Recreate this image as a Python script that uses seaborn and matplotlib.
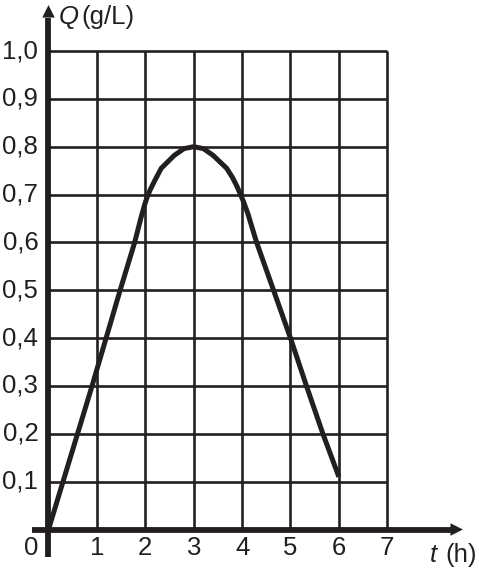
import matplotlib
matplotlib.use("Agg")
import matplotlib.pyplot as plt
import seaborn as sns
import pandas as pd

# curve points
t_vals = [0.0, 0.3, 0.6, 0.9, 1.19, 1.48, 1.78, 1.92, 1.99, 2.05, 2.12, 2.2, 2.33, 2.6, 2.8,
          3.0, 3.2, 3.4, 3.68, 3.8, 3.89, 3.96, 4.03, 4.12, 4.3, 4.65, 5.0, 5.33, 5.67, 6.0]
q_vals = [0.0, 0.1, 0.2, 0.3, 0.4, 0.5, 0.6, 0.655, 0.68, 0.698, 0.714, 0.73, 0.755, 0.782, 0.796,
          0.8, 0.796, 0.782, 0.755, 0.736, 0.718, 0.702, 0.685, 0.66, 0.6, 0.5, 0.4, 0.3, 0.2, 0.11]

x_ticks = [1, 2, 3, 4, 5, 6, 7]
y_ticks = [0.1, 0.2, 0.3, 0.4, 0.5, 0.6, 0.7, 0.8, 0.9, 1.0]
y_labels = ["0,1", "0,2", "0,3", "0,4", "0,5", "0,6", "0,7", "0,8", "0,9", "1,0"]

sns.set_style("white")
plt.rcParams['font.family'] = ['Liberation Sans', 'DejaVu Sans']

fig = plt.figure(figsize=(4.79, 5.72), dpi=100)
ax = fig.add_axes([0, 0, 1, 1])
ax.set_xlim(-1.002, 8.895)
ax.set_ylim(-0.0888, 1.1066)
ax.axis("off")

ink = "#231f20"

# grid
ax.vlines(x_ticks, 0, 1.0, color=ink, lw=1.9, zorder=1)
ax.hlines(y_ticks, 0, 7, color=ink, lw=1.9, zorder=1)

# axes with arrows
ax.plot([0, 0], [-0.058, 1.07], color=ink, lw=4.2, solid_capstyle="butt", zorder=2)
ax.plot([-0.34, 8.35], [0, 0], color=ink, lw=4.2, solid_capstyle="butt", zorder=2)
head = dict(arrowstyle="-|>,head_length=0.9,head_width=0.45", mutation_scale=10,
            color=ink, lw=0, shrinkA=0, shrinkB=0)
ax.annotate("", xy=(0, 1.096), xytext=(0, 1.05), arrowprops=head)
ax.annotate("", xy=(8.564, 0), xytext=(8.3, 0), arrowprops=head)

# curve
df = pd.DataFrame({"t": t_vals, "Q": q_vals})
sns.lineplot(data=df, x="t", y="Q", ax=ax, color=ink, lw=3.6, sort=False,
             solid_capstyle="butt", zorder=3)

# tick labels
fs = 18.5
for y, lab in zip(y_ticks, y_labels):
    ax.text(-0.21, y, lab, ha="right", va="center", fontsize=fs, color=ink)
for x in x_ticks:
    ax.text(x, -0.038, str(x), ha="center", va="center", fontsize=fs, color=ink)
ax.text(-0.35, -0.038, "0", ha="center", va="center", fontsize=fs, color=ink)

# axis titles
ax.text(0.21, 1.072, "Q", ha="left", va="center", fontsize=fs, color=ink, style="italic")
ax.text(0.68, 1.072, "(g/L)", ha="left", va="center", fontsize=fs, color=ink)
ax.text(7.88, -0.053, "t", ha="left", va="center", fontsize=fs, color=ink, style="italic")
ax.text(8.19, -0.053, "(h)", ha="left", va="center", fontsize=fs, color=ink)

fig.savefig("out.png", dpi=100)
